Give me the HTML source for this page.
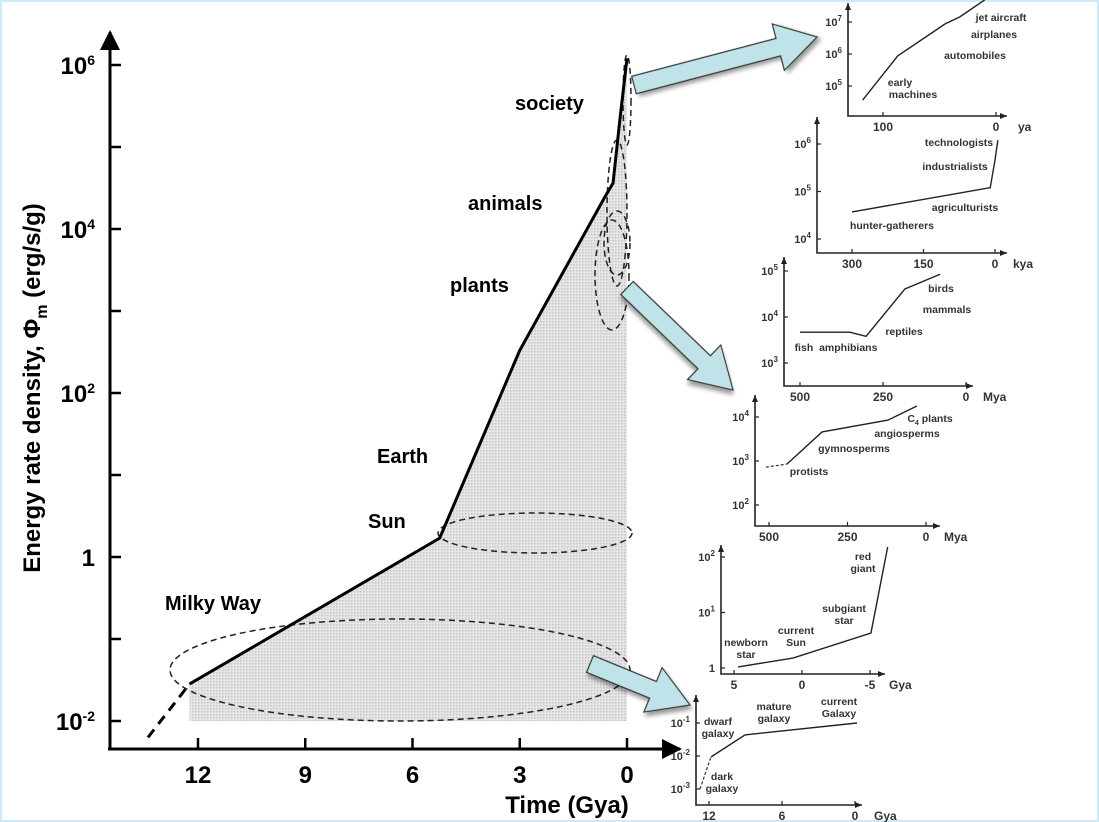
<!DOCTYPE html>
<html><head><meta charset="utf-8"><style>
html,body{margin:0;padding:0;background:#fff}
svg{display:block;font-family:"Liberation Sans",sans-serif}
</style></head><body>
<svg id="chart" width="1099" height="822" viewBox="0 0 1099 822">
<defs>
<pattern id="stip" width="3" height="3" patternUnits="userSpaceOnUse"><rect width="3" height="3" fill="#e6e6e6"/><rect width="1.5" height="1.5" fill="#c4c4c4"/></pattern>
<marker id="bigah" markerWidth="20" markerHeight="20" refX="18" refY="10" orient="auto" markerUnits="userSpaceOnUse"><path d="M0,0 L20,10 L0,20z" fill="#000"/></marker>
<filter id="sh" x="-20%" y="-20%" width="140%" height="140%"><feDropShadow dx="3" dy="3" stdDeviation="2" flood-color="#000" flood-opacity="0.4"/></filter>
</defs>
<rect x="0" y="0" width="1099" height="822" fill="none" stroke="#cdeaf6" stroke-width="4"/>
<g id="main"></g>
<g id="insets"></g>
</svg>
<script>
// ---- main chart data ----
const mainTimes = [12.24, 5.24, 3.0, 0.62, 0.39, 0.2, 0.0];
const mainLogPhi = [-1.55, 0.23, 2.52, 4.39, 4.56, 5.33, 6.08];
const mainDashTimes = [13.4, 12.24];
const mainDashLogPhi = [-2.2, -1.55];
const yTickLogs = [-2, 0, 2, 4, 6];
const yTickLabels = ["10<tspan dy='-9' font-size='14'>-2</tspan>", "1", "10<tspan dy='-9' font-size='14'>2</tspan>", "10<tspan dy='-9' font-size='14'>4</tspan>", "10<tspan dy='-9' font-size='14'>6</tspan>"];
const xTickTimes = [12, 9, 6, 3, 0];

const NS = "http://www.w3.org/2000/svg";
function mk(parent, tag, attrs) {
  const e = document.createElementNS(NS, tag);
  for (const k in attrs) e.setAttribute(k, attrs[k]);
  parent.appendChild(e);
  return e;
}
const X = t => 627 - t * 35.75;
const Y = l => 557 - l * 82;
const main = document.getElementById('main');

let pts = mainTimes.map((t, i) => X(t) + ',' + Y(mainLogPhi[i]));
pts.push(X(0) + ',' + Y(-2), X(mainTimes[0]) + ',' + Y(-2));
const area = mk(main, 'polygon', {points: pts.join(' '), fill: 'url(#stip)'});



const ya = mk(main, 'line', {x1: 110, y1: 750, x2: 110, y2: 32, stroke: '#000', 'stroke-width': 3, 'marker-end': 'url(#bigah)'});


const xa = mk(main, 'line', {x1: 108, y1: 749, x2: 680, y2: 749, stroke: '#000', 'stroke-width': 3, 'marker-end': 'url(#bigah)'});


for (let l = -2; l <= 6; l++) {
  const tk = mk(main, 'line', {x1: 110, x2: 121, y1: Y(l), y2: Y(l), stroke: '#000', 'stroke-width': 2.5});
  
  
}
yTickLogs.forEach((l, i) => {
  const t = mk(main, 'text', {x: 95, y: Y(l) + 9, 'text-anchor': 'end', 'font-size': 24, 'font-weight': 'bold'});
  t.innerHTML = yTickLabels[i];
  
  
});
xTickTimes.forEach(v => {
  const tk = mk(main, 'line', {x1: X(v), x2: X(v), y1: 749, y2: 738, stroke: '#000', 'stroke-width': 2.5});
  
  
  const t = mk(main, 'text', {x: X(v), y: 783, 'text-anchor': 'middle', 'font-size': 24, 'font-weight': 'bold'});
  t.textContent = v;
  
  
});
const xt = mk(main, 'text', {x: 567, y: 813, 'text-anchor': 'middle', 'font-size': 24, 'font-weight': 'bold'});
xt.textContent = 'Time (Gya)';


const yt = mk(main, 'text', {x: 0, y: 0, 'text-anchor': 'middle', 'font-size': 24, 'font-weight': 'bold', transform: 'translate(40,388) rotate(-90)'});
yt.innerHTML = 'Energy rate density, Φ<tspan dy="7" font-size="16">m</tspan><tspan dy="-7"> (erg/s/g)</tspan>';



[[400, 670, 230, 51], [535, 533, 97, 20], [612, 275, 17, 55], [617, 243, 13, 32], [617, 213, 10, 73], [627, 100, 4, 45]].forEach(e => {
  const el = mk(main, 'ellipse', {cx: e[0], cy: e[1], rx: e[2], ry: e[3], fill: 'none', stroke: '#222', 'stroke-width': 1.5, 'stroke-dasharray': '6,4'});
  
  
});
const dl = mk(main, 'polyline', {points: mainDashTimes.map((t, i) => X(t) + ',' + Y(mainDashLogPhi[i])).join(' '), fill: 'none', stroke: '#000', 'stroke-width': 3, 'stroke-dasharray': '10,7'});


const ml = mk(main, 'polyline', {points: mainTimes.map((t, i) => X(t) + ',' + Y(mainLogPhi[i])).join(' '), fill: 'none', stroke: '#000', 'stroke-width': 3, 'stroke-linejoin': 'round'});



[['society', 515, 110], ['animals', 468, 210], ['plants', 450, 292], ['Earth', 377, 463], ['Sun', 368, 528], ['Milky Way', 165, 610]].forEach(a => {
  const t = mk(main, 'text', {x: a[1], y: a[2], 'font-size': 20, 'font-weight': 'bold'});
  t.textContent = a[0];
  
  
});

function arrow(x1, y1, x2, y2, name) {
  const L = Math.hypot(x2 - x1, y2 - y1), ang = Math.atan2(y2 - y1, x2 - x1) * 180 / Math.PI;
  const hl = 40, sw = 9, hw = 24;
  const p = `0,${-sw} ${L - hl},${-sw} ${L - hl},${-hw} ${L},0 ${L - hl},${hw} ${L - hl},${sw} 0,${sw}`;
  const a = mk(main, 'polygon', {points: p, fill: '#bfe3e8', stroke: '#333', 'stroke-width': 1.2, transform: `translate(${x1},${y1}) rotate(${ang})`, filter: 'url(#sh)'});
  
  
}
arrow(634, 85, 817, 37, 'arrow-to-society-inset');
arrow(627, 288, 733, 390, 'arrow-to-life-insets');
arrow(590, 664, 690, 705, 'arrow-to-cosmic-insets');

// ---- insets ----
const ins1X = [118, 87, 45, 32, 10];
const ins1Y = [4.56, 5.94, 6.94, 7.16, 7.69];
const ins2X = [300, 10, 0, -6];
const ins2Y = [4.57, 5.08, 5.66, 6.08];
const ins3X = [500, 350, 301, 184, 78];
const ins3Y = [3.67, 3.67, 3.58, 4.61, 4.93];
const ins4DashX = [510, 443];
const ins4DashY = [2.86, 2.93];
const ins4X = [443, 331, 121, 29];
const ins4Y = [2.93, 3.66, 3.93, 4.25];
const ins5X = [4.7, 0.66, -5.07, -6.3];
const ins5Y = [0.02, 0.18, 0.63, 2.18];
const ins6DashX = [12.74, 11.84];
const ins6DashY = [-3, -2.03];
const ins6X = [11.84, 9.04, -0.16];
const ins6Y = [-2.03, -1.36, -1];

const G = document.getElementById('insets');
function inset(cfg) {
  const g = mk(G, 'g', {});
  
  
  const sx = v => cfg.xp[0] + (v - cfg.xv[0]) * (cfg.xp[1] - cfg.xp[0]) / (cfg.xv[1] - cfg.xv[0]);
  const sy = v => cfg.yp[0] + (v - cfg.yv[0]) * (cfg.yp[1] - cfg.yp[0]) / (cfg.yv[1] - cfg.yv[0]);
  const ax = mk(g, 'polyline', {points: `${cfg.ax},${cfg.top} ${cfg.ax},${cfg.bot} ${cfg.right},${cfg.bot}`, fill: 'none', stroke: '#222', 'stroke-width': 1.6});
  
  
  mk(g, 'path', {d: `M${cfg.ax - 3},${cfg.top + 7} L${cfg.ax},${cfg.top} L${cfg.ax + 3},${cfg.top + 7}z`, fill: '#222'});
  mk(g, 'path', {d: `M${cfg.right - 7},${cfg.bot - 3} L${cfg.right},${cfg.bot} L${cfg.right - 7},${cfg.bot + 3}z`, fill: '#222'});
  cfg.yt.forEach((v, i) => {
    mk(g, 'line', {x1: cfg.ax, x2: cfg.ax + 4, y1: sy(v), y2: sy(v), stroke: '#222', 'stroke-width': 1.2});
    const t = mk(g, 'text', {x: cfg.ax - 6, y: sy(v) + 4, 'text-anchor': 'end', 'font-size': 11, 'font-weight': 'bold', fill: '#333'});
    t.innerHTML = cfg.ytl[i];
    
    
  });
  cfg.xt.forEach(v => {
    mk(g, 'line', {x1: sx(v), x2: sx(v), y1: cfg.bot, y2: cfg.bot - 4, stroke: '#222', 'stroke-width': 1.2});
    const t = mk(g, 'text', {x: sx(v), y: cfg.bot + 15, 'text-anchor': 'middle', 'font-size': 12, 'font-weight': 'bold', fill: '#333'});
    t.textContent = v;
    
    
  });
  const u = mk(g, 'text', {x: cfg.unit[1], y: cfg.bot + 15, 'font-size': 12, 'font-weight': 'bold', fill: '#333'});
  u.textContent = cfg.unit[0];
  
  
  if (cfg.dx) {
    const d = mk(g, 'polyline', {points: cfg.dx.map((v, i) => sx(v) + ',' + sy(cfg.dy[i])).join(' '), fill: 'none', stroke: '#333', 'stroke-width': 1.2, 'stroke-dasharray': '3,2'});
    
    
  }
  const l = mk(g, 'polyline', {points: cfg.x.map((v, i) => sx(v) + ',' + sy(cfg.y[i])).join(' '), fill: 'none', stroke: '#222', 'stroke-width': 1.4});
  
  
  cfg.labels.forEach(a => {
    const t = mk(g, 'text', {x: a[1], y: a[2], 'text-anchor': 'middle', 'font-size': 10.5, 'font-weight': 'bold', fill: '#333'});
    t.innerHTML = a[0];
    
    
  });
}
const sup = s => `10<tspan dy="-5" font-size="8">${s}</tspan>`;
inset({name: 'inset-machines', ax: 848, top: 3, bot: 116, right: 1007, xp: [883, 996], xv: [100, 0], yp: [22, 86], yv: [7, 5],
  yt: [7, 6, 5], ytl: [sup(7), sup(6), sup(5)], xt: [100, 0], unit: ['ya', 1018], x: ins1X, y: ins1Y,
  labels: [['jet aircraft', 1001, 21], ['airplanes', 994, 38], ['automobiles', 975, 59], ['early', 900, 86], ['machines', 913, 98]]});
inset({name: 'inset-humans', ax: 817, top: 117, bot: 253, right: 1007, xp: [852, 995], xv: [300, 0], yp: [144, 239], yv: [6, 4],
  yt: [6, 5, 4], ytl: [sup(6), sup(5), sup(4)], xt: [300, 150, 0], unit: ['kya', 1013], x: ins2X, y: ins2Y,
  labels: [['technologists', 959, 146], ['industrialists', 955, 170], ['agriculturists', 965, 211], ['hunter-gatherers', 892, 229]]});
inset({name: 'inset-animals', ax: 784, top: 257, bot: 386, right: 973, xp: [800, 966], xv: [500, 0], yp: [271, 363], yv: [5, 3],
  yt: [5, 4, 3], ytl: [sup(5), sup(4), sup(3)], xt: [500, 250, 0], unit: ['Mya', 983], x: ins3X, y: ins3Y,
  labels: [['birds', 941, 292], ['mammals', 947, 313], ['reptiles', 904, 335], ['fish&#160; amphibians', 836, 351]]});
inset({name: 'inset-plants', ax: 755, top: 395, bot: 526, right: 940, xp: [769, 926], xv: [500, 0], yp: [417, 505], yv: [4, 2],
  yt: [4, 3, 2], ytl: [sup(4), sup(3), sup(2)], xt: [500, 250, 0], unit: ['Mya', 944], dx: ins4DashX, dy: ins4DashY, x: ins4X, y: ins4Y,
  labels: [['C<tspan dy="3" font-size="7">4</tspan><tspan dy="-3"> plants</tspan>', 930, 422], ['angiosperms', 907, 437], ['gymnosperms', 854, 452], ['protists', 809, 475]]});
inset({name: 'inset-stars', ax: 721, top: 545, bot: 674, right: 885, xp: [734, 870], xv: [5, -5], yp: [557, 668], yv: [2, 0],
  yt: [2, 1, 0], ytl: [sup(2), sup(1), '1'], xt: [5, 0, -5], unit: ['Gya', 889], x: ins5X, y: ins5Y,
  labels: [['red', 863, 560], ['giant', 863, 572], ['subgiant', 844, 612], ['star', 844, 624], ['current', 796, 634], ['Sun', 796, 646], ['newborn', 746, 646], ['star', 746, 658]]});
inset({name: 'inset-galaxies', ax: 696, top: 695, bot: 805, right: 862, xp: [709, 855], xv: [12, 0], yp: [723, 789], yv: [-1, -3],
  yt: [-1, -2, -3], ytl: [sup('-1'), sup('-2'), sup('-3')], xt: [12, 6, 0], unit: ['Gya', 874], dx: ins6DashX, dy: ins6DashY, x: ins6X, y: ins6Y,
  labels: [['dwarf', 718, 725], ['galaxy', 718, 737], ['mature', 774, 710], ['galaxy', 774, 722], ['current', 839, 705], ['Galaxy', 839, 717], ['dark', 722, 780], ['galaxy', 722, 792]]});
</script>
</body></html>
